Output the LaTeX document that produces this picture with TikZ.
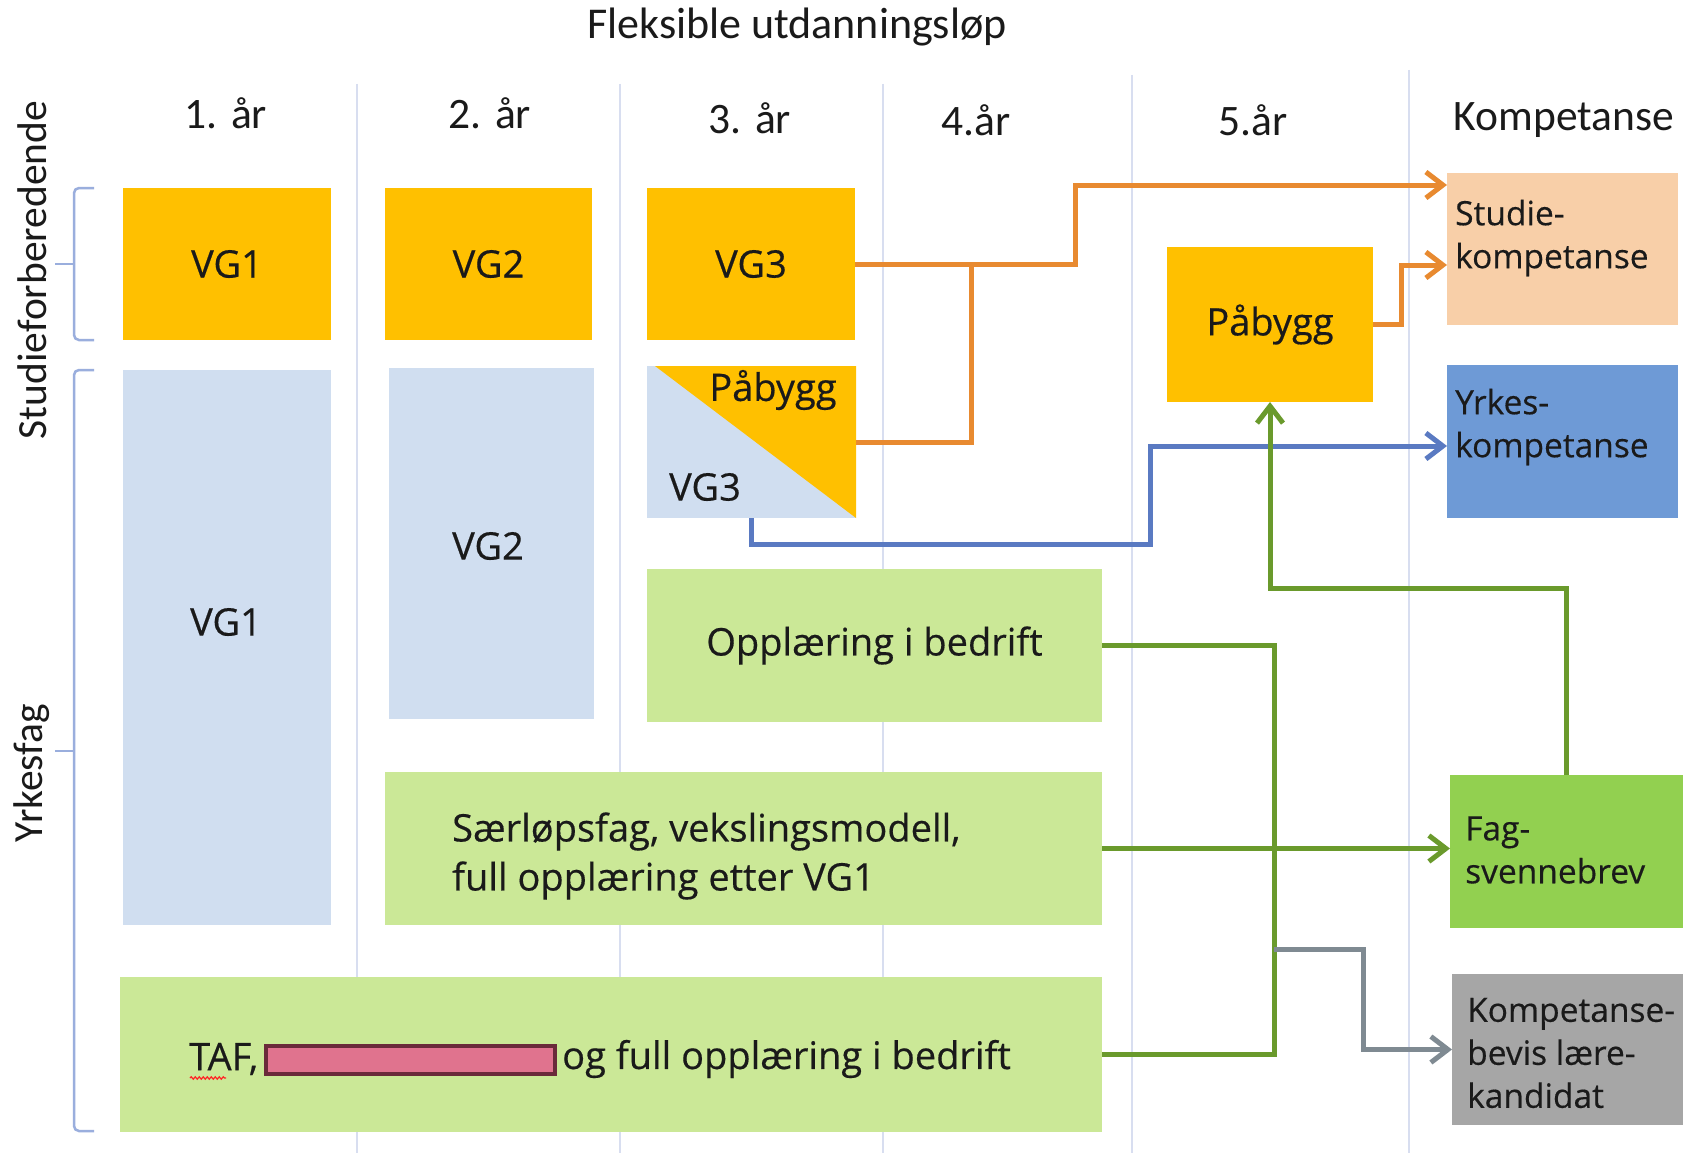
\documentclass[tikz,border=0pt]{standalone}
\usepackage{fontspec}
\setmainfont{Open Sans}[FakeBold=0.4]
\newfontfamily\hdrfam{Carlito}
\usetikzlibrary{arrows.meta,calc,decorations.pathmorphing}
\definecolor{cyellow}{HTML}{FFC000}
\definecolor{clblue}{HTML}{D0DEF0}
\definecolor{clgreen}{HTML}{CBE897}
\definecolor{cpeach}{HTML}{F8CFA8}
\definecolor{cblue}{HTML}{6E9AD6}
\definecolor{cgreen}{HTML}{92D050}
\definecolor{cgray}{HTML}{A6A6A6}
\definecolor{lorange}{HTML}{E88A30}
\definecolor{lblue}{HTML}{5A7AC2}
\definecolor{lgreen}{HTML}{6A9A2C}
\definecolor{lgray}{HTML}{7F8A92}
\definecolor{cgrid}{HTML}{D8DEF0}
\definecolor{cbrack}{HTML}{9AAEDD}
\definecolor{credout}{HTML}{6A2A3A}
\definecolor{credfill}{HTML}{E0738E}
\definecolor{ctext}{HTML}{1A1A1A}
\newcommand\hdfont{\hdrfam\fontsize{43.5}{50}\selectfont}
\newcommand\sdfont{\hdrfam\fontsize{41.5}{50}\selectfont}
\newcommand\ttlfont{\hdrfam\fontsize{44}{50}\selectfont}
\newcommand\bxfont{\fontsize{38}{49}\selectfont}
\newcommand\smfont{\fontsize{33.5}{43}\selectfont}
\begin{document}
\begin{tikzpicture}[x=1pt,y=-1pt,
  box/.style={inner sep=0pt,outer sep=0pt,text=ctext,font=\bxfont},
  lbl/.style={inner sep=0pt,text=ctext,font=\bxfont},
  slbl/.style={inner sep=0pt,text=ctext,font=\smfont,align=left,anchor=west},
  hdr/.style={inner sep=0pt,text=ctext,font=\hdfont},
  conn/.style={line width=5pt,-{Straight Barb[length=17pt,width=26pt]}},
  seg/.style={line width=5pt},
  gridline/.style={draw=cgrid,line width=1.5pt},
  bracket/.style={draw=cbrack,line width=2.5pt,rounded corners=5pt}]
\useasboundingbox (0,0) rectangle (1683,1153);
\fill[white] (0,0) rectangle (1683,1153);
% grid
\draw[gridline] (357,84) -- (357,1153);
\draw[gridline] (620,84) -- (620,1153);
\draw[gridline] (883,84) -- (883,1153);
\draw[gridline] (1132,75) -- (1132,1153);
\draw[gridline] (1409,70) -- (1409,1153);
% title and headers
\node[hdr,font=\ttlfont] (title) at (797,27) {Fleksible utdanningsløp};
\node[hdr] (h1) at (226,113) {1. år};
\node[hdr] (h2) at (490,113) {2. år};
\node[hdr] (h3) at (750,118) {3. år};
\node[hdr] (h4) at (976,120) {4.år};
\node[hdr] (h5) at (1253,120) {5.år};
\node[hdr] (h6) at (1564,120) {Kompetanse};
% side labels
\node[hdr,font=\sdfont,rotate=90] (lstud) at (32,270) {Studieforberedende};
\node[hdr,font=\sdfont,rotate=90] (lyrk) at (32,773) {Yrkesfag};
\draw[bracket] (94,188) -- (74,188) -- (74,340) -- (94,340);
\draw[bracket] (74,264) -- (55,264);
\draw[bracket] (94,370) -- (74,370) -- (74,1131) -- (94,1131);
\draw[bracket] (74,751) -- (55,751);
% boxes
\node[box,fill=cyellow,minimum width=208,minimum height=152] (vg1s) at (227,264) {VG1};
\node[box,fill=cyellow,minimum width=207,minimum height=152] (vg2s) at (488.5,264) {VG2};
\node[box,fill=cyellow,minimum width=208,minimum height=152] (vg3s) at (751,264) {VG3};
\node[box,fill=clblue,minimum width=209,minimum height=152] (pv3) at (751.5,442) {};
\fill[cyellow] (655,366) -- (pv3.north east) -- (pv3.south east) -- cycle;
\node[lbl] (pv3a) at (773,390) {Påbygg};
\node[lbl] (pv3b) at (705,487) {VG3};
\node[box,fill=clblue,minimum width=208,minimum height=555] (vg1y) at (227,647.5) {};
\node[lbl] (vg1yt) at (226,622) {VG1};
\node[box,fill=clblue,minimum width=205,minimum height=351] (vg2y) at (491.5,543.5) {};
\node[lbl] (vg2yt) at (488,546) {VG2};
\node[box,fill=clgreen,minimum width=455,minimum height=153] (opp) at (874.5,645.5) {\raisebox{-3pt}{Opplæring i bedrift}};
\node[box,fill=clgreen,minimum width=717,minimum height=153] (saer) at (743.5,848.5) {};
\node[lbl,align=left,anchor=west] (saert) at (452,856) {Særløpsfag, vekslingsmodell,\\full opplæring etter VG1};
\node[box,fill=clgreen,minimum width=982,minimum height=155] (taf) at (611,1054.5) {};
\node[lbl,anchor=west] (taf1) at (189,1059) {TAF,};
\node[lbl,anchor=west] (taf2) at (562,1059) {og full opplæring i bedrift};
\draw[red!85,line width=1.2pt,decorate,decoration={snake,amplitude=1.2pt,segment length=4pt}] (190,1078) -- (226,1078);
\node[draw=credout,fill=credfill,line width=4pt,inner sep=0pt,minimum width=289,minimum height=28] (redact) at (410.5,1060) {};
\node[box,fill=cyellow,minimum width=206,minimum height=155] (pab) at (1270,324.5) {\raisebox{-3pt}{Påbygg}};
\node[box,fill=cpeach,minimum width=231,minimum height=152] (stud) at (1562.5,249) {};
\node[slbl] (studt) at (1455,238) {Studie-\\kompetanse};
\node[box,fill=cblue,minimum width=231,minimum height=153] (yrk) at (1562.5,441.5) {};
\node[slbl] (yrkt) at (1455,427) {Yrkes-\\kompetanse};
\node[box,fill=cgreen,minimum width=233,minimum height=153] (fag) at (1566.5,851.5) {};
\node[slbl] (fagt) at (1465,850) {Fag-\\svennebrev};
\node[box,fill=cgray,minimum width=231,minimum height=151] (komp) at (1567.5,1049.5) {};
\node[slbl] (kompt) at (1467,1053) {Kompetanse-\\bevis lære-\\kandidat};
% connector coordinates
\coordinate (oj1) at (1075,185);
\coordinate (oj2) at (971,264);
\coordinate (oj3) at (1401,265);
\coordinate (bj) at (1150,544);
\coordinate (bk) at (1150,446);
\coordinate (gj) at (1270,588);
\coordinate (gv) at (1274,1054.5);
\coordinate (gy) at (1274,949);
\coordinate (gyb) at (1363,1049.5);
% connectors
\draw[conn,draw=lorange] (vg3s.east) -| (oj1) -- (stud.west |- oj1);
\draw[seg,draw=lorange] (pv3.east) -| (oj2);
\draw[conn,draw=lorange] (pab.east) -| (oj3) -- (stud.west |- oj3);
\draw[conn,draw=lblue] (pv3.south) |- (bj) -- (bk) -- (yrk.west |- bk);
\draw[conn,draw=lgreen] (fag.north) |- (gj) -- (pab.south);
\draw[seg,draw=lgreen] (opp.east) -| (gv) -- (taf.east);
\draw[conn,draw=lgreen] (saer.east) -- (saer.east -| fag.west);
\draw[conn,draw=lgray] (gy) -| (gyb) -- (komp.west);
\end{tikzpicture}
\end{document}
